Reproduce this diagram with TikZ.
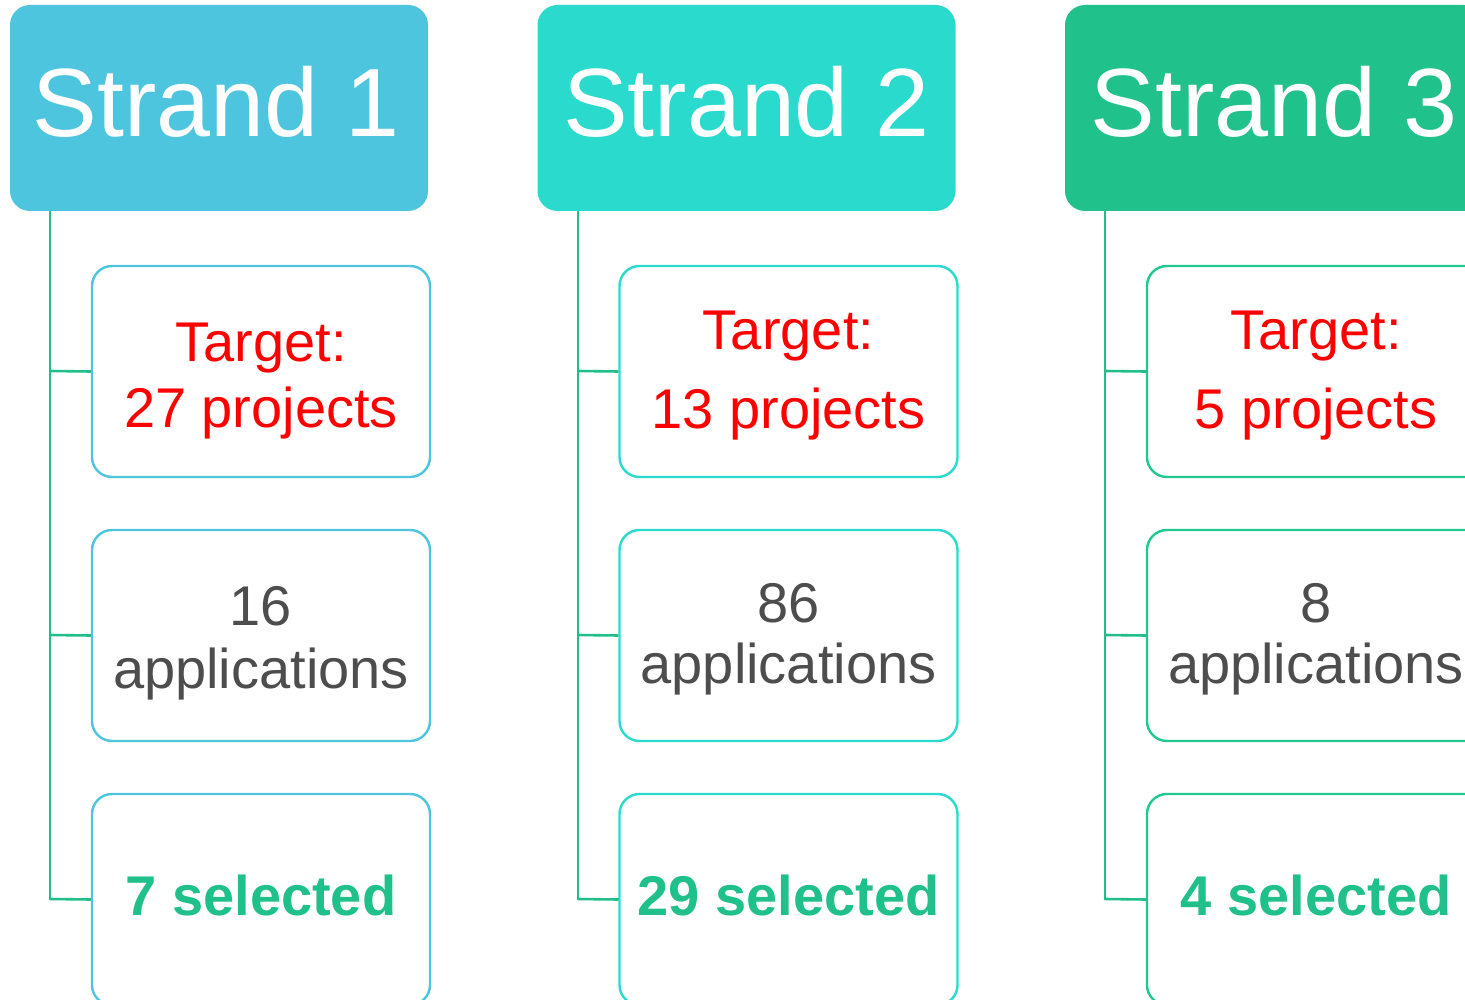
\documentclass[tikz,border=0pt]{standalone}
\usepackage{fontspec}
\setmainfont{Liberation Sans}
\definecolor{cone}{HTML}{4DC5DE}
\definecolor{ctwo}{HTML}{2ADBCD}
\definecolor{cthree}{HTML}{20C18A}
\definecolor{cthreeb}{HTML}{22C690}
\definecolor{linkc}{HTML}{20BF88}
\definecolor{redt}{HTML}{FF0000}
\definecolor{greyt}{HTML}{4D4D4D}
\definecolor{greent}{HTML}{20C08A}
\tikzset{
  header/.style={rounded corners=20pt, minimum width=418pt, minimum height=206pt, inner sep=0pt, draw=none},
  childbox/.style={rounded corners=20pt, minimum width=338pt, minimum height=211pt, inner sep=0pt, line width=2.4pt, fill=white},
  headtxt/.style={anchor=base, inner sep=0pt, text=white, font=\fontsize{97}{105}\selectfont},
  redtxt/.style={anchor=base, inner sep=0pt, text=redt, font=\fontsize{56}{60}\selectfont},
  greytxt/.style={anchor=base, inner sep=0pt, text=greyt, font=\fontsize{56}{60}\selectfont},
  greentxt/.style={anchor=base, inner sep=0pt, text=greent, font=\bfseries\fontsize{56}{60}\selectfont},
  link/.style={draw=linkc, line width=2.6pt}
}
\begin{document}
\begin{tikzpicture}[x=1pt,y=-1pt]
\useasboundingbox (0,0) rectangle (1465,1000);
\clip (0,0) rectangle (1465,1000);
% Column 1
\node[header, fill=cone] (h1) at (219,108) {};
\node[headtxt] (h1t) at (216,137) {Strand 1};
\coordinate (t1top) at (50,211);
\coordinate (t1a) at (50,371);
\coordinate (t1b) at (50,635);
\coordinate (t1c) at (50,899);
\draw[link] (t1top) -- (t1c) -- (92,899);
\node[childbox, draw=cone] (a1) at (261,371.5) {};
\node[childbox, draw=cone] (b1) at (261,635.5) {};
\node[childbox, draw=cone] (c1) at (261,899.5) {};
\draw[link] (t1a) -- (a1.west);
\draw[link] (t1b) -- (b1.west);
\draw[link] (t1c) -- (c1.west);
\node[redtxt] (a1t1) at (261,362) {Target:};
\node[redtxt] (a1t2) at (261,427) {27 projects};
\node[greytxt] (b1t1) at (261,625) {16};
\node[greytxt] (b1t2) at (261,688) {applications};
\node[greentxt] (c1t) at (261,915) {7 selected};
% Column 2
\node[header, fill=ctwo] (h2) at (746.5,108) {};
\node[headtxt] (h2t) at (746.5,137) {Strand 2};
\coordinate (t2top) at (578,211);
\coordinate (t2a) at (578,371);
\coordinate (t2b) at (578,635);
\coordinate (t2c) at (578,899);
\draw[link] (t2top) -- (t2c) -- (620,899);
\node[childbox, draw=ctwo] (a2) at (788.5,371.5) {};
\node[childbox, draw=ctwo] (b2) at (788.5,635.5) {};
\node[childbox, draw=ctwo] (c2) at (788.5,899.5) {};
\draw[link] (t2a) -- (a2.west);
\draw[link] (t2b) -- (b2.west);
\draw[link] (t2c) -- (c2.west);
\node[redtxt] (a2t1) at (788.5,349) {Target:};
\node[redtxt] (a2t2) at (788.5,428) {13 projects};
\node[greytxt] (b2t1) at (788.5,622) {86};
\node[greytxt] (b2t2) at (788.5,683) {applications};
\node[greentxt] (c2t) at (788.5,915) {29 selected};
% Column 3
\node[header, fill=cthree] (h3) at (1274,108) {};
\node[headtxt] (h3t) at (1274,137) {Strand 3};
\coordinate (t3top) at (1105,211);
\coordinate (t3a) at (1105,371);
\coordinate (t3b) at (1105,635);
\coordinate (t3c) at (1105,899);
\draw[link] (t3top) -- (t3c) -- (1147,899);
\node[childbox, draw=cthreeb] (a3) at (1316,371.5) {};
\node[childbox, draw=cthreeb] (b3) at (1316,635.5) {};
\node[childbox, draw=cthreeb] (c3) at (1316,899.5) {};
\draw[link] (t3a) -- (a3.west);
\draw[link] (t3b) -- (b3.west);
\draw[link] (t3c) -- (c3.west);
\node[redtxt] (a3t1) at (1316,350) {Target:};
\node[redtxt] (a3t2) at (1316,428) {5 projects};
\node[greytxt] (b3t1) at (1316,622) {8};
\node[greytxt] (b3t2) at (1316,683) {applications};
\node[greentxt] (c3t) at (1316,915) {4 selected};
\end{tikzpicture}
\end{document}
